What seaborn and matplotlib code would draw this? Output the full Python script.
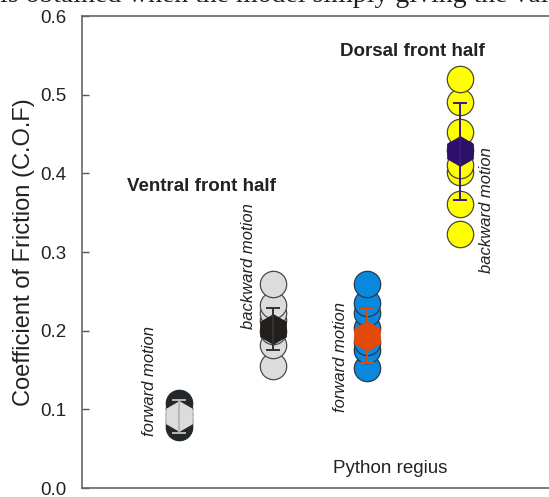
import numpy as np
import pandas as pd
import matplotlib
matplotlib.use("Agg")
import matplotlib.pyplot as plt
import seaborn as sns

# dati (coefficiente di attrito)
gruppi = ["ventral forward", "ventral backward", "dorsal forward", "dorsal backward"]
cof_ventral_fwd = [0.078, 0.083, 0.088, 0.094, 0.100, 0.108]
cof_ventral_bwd = [0.155, 0.182, 0.200, 0.213, 0.222, 0.233, 0.259]
cof_dorsal_fwd = [0.152, 0.175, 0.186, 0.203, 0.222, 0.235, 0.259]
cof_dorsal_bwd = [0.323, 0.361, 0.402, 0.411, 0.430, 0.453, 0.491, 0.520]
media_cof = [0.091, 0.202, 0.193, 0.428]
sd_cof = [0.021, 0.027, 0.034, 0.062]

etichette_moto = ["forward motion", "backward motion", "forward motion", "backward motion"]
ticks_y = [0.0, 0.1, 0.2, 0.3, 0.4, 0.5, 0.6]

# colori per gruppo
col_punti = ["#25282a", "#dcdcdc", "#0a88dc", "#ffff00"]
col_bordo = ["#25282a", "#4a4a4a", "#2a3a4a", "#4a4a30"]
col_media = ["#dcdcdc", "#231f1c", "#e24a0a", "#2d106a"]
col_err = ["#b8b8b8", "#333333", "#e24a0a", "#3a1a7a"]

valori = [cof_ventral_fwd, cof_ventral_bwd, cof_dorsal_fwd, cof_dorsal_bwd]
df = pd.DataFrame({
    "gruppo": np.concatenate([[g] * len(v) for g, v in zip(gruppi, valori)]),
    "cof": np.concatenate(valori),
})

sns.set_style("white")
plt.rcParams["font.family"] = ["Liberation Sans", "DejaVu Sans"]

fig = plt.figure(figsize=(5.49, 4.97), dpi=100)
ax = fig.add_axes([0.1494, 0.0181, 0.8506, 0.9497])

# cerchi dei singoli valori, un gruppo alla volta per avere il bordo giusto
for i, g in enumerate(gruppi):
    sub = df[df["gruppo"] == g]
    sns.stripplot(data=sub, x="gruppo", y="cof", order=gruppi, jitter=False,
                  color=col_punti[i], edgecolor=col_bordo[i], linewidth=0.9,
                  size=19, ax=ax, zorder=2)

# media (esagono) e barra di errore
for i in range(len(gruppi)):
    ax.plot(i, media_cof[i], marker="h", markersize=21, color=col_media[i],
            markeredgecolor=col_media[i], zorder=4)
    ax.errorbar(i, media_cof[i], yerr=sd_cof[i], fmt="none", ecolor=col_err[i],
                elinewidth=1.4, capsize=5, capthick=1.4, zorder=5)

ax.set_xlim(-1.04, 3.95)
ax.set_ylim(0, 0.6)
ax.set_xticks([])
ax.set_yticks(ticks_y)
ax.set_yticklabels([f"{t:.1f}" for t in ticks_y])
ax.set_xlabel("")
ax.set_ylabel("Coefficient of Friction (C.O.F)", fontsize=17, color="#222222", labelpad=4)
ax.tick_params(axis="y", direction="in", length=5, width=1, colors="#555555",
               labelcolor="#222222", labelsize=13.5, pad=11, left=True)

for lato in ["left", "top", "bottom"]:
    ax.spines[lato].set_color("#666666")
    ax.spines[lato].set_linewidth(1.2)
ax.spines["right"].set_visible(False)

# etichette del moto accanto ai gruppi
pos_testo = [(-0.318, 0.136), (0.742, 0.282), (1.718, 0.167), (3.287, 0.353)]
for (tx, ty), lab in zip(pos_testo, etichette_moto):
    ax.text(tx, ty, lab, rotation=90, style="italic", fontsize=12,
            ha="center", va="center", color="#222222")

ax.text(0.233, 0.383, "Ventral front half", fontsize=13.5, fontweight="bold",
        ha="center", va="center", color="#222222")
ax.text(2.49, 0.555, "Dorsal front half", fontsize=13.5, fontweight="bold",
        ha="center", va="center", color="#222222")
ax.text(2.248, 0.025, "Python regius", fontsize=13.5, ha="center", va="center",
        color="#222222")

# riga di testo della pagina, tagliata dal bordo superiore come nell'originale
fig.text(0.0, 0.995, "is obtained when the model simply giving the values as",
         family="Liberation Serif", fontsize=20, ha="left", va="baseline", color="#222222")

fig.savefig("out.png", dpi=100)
